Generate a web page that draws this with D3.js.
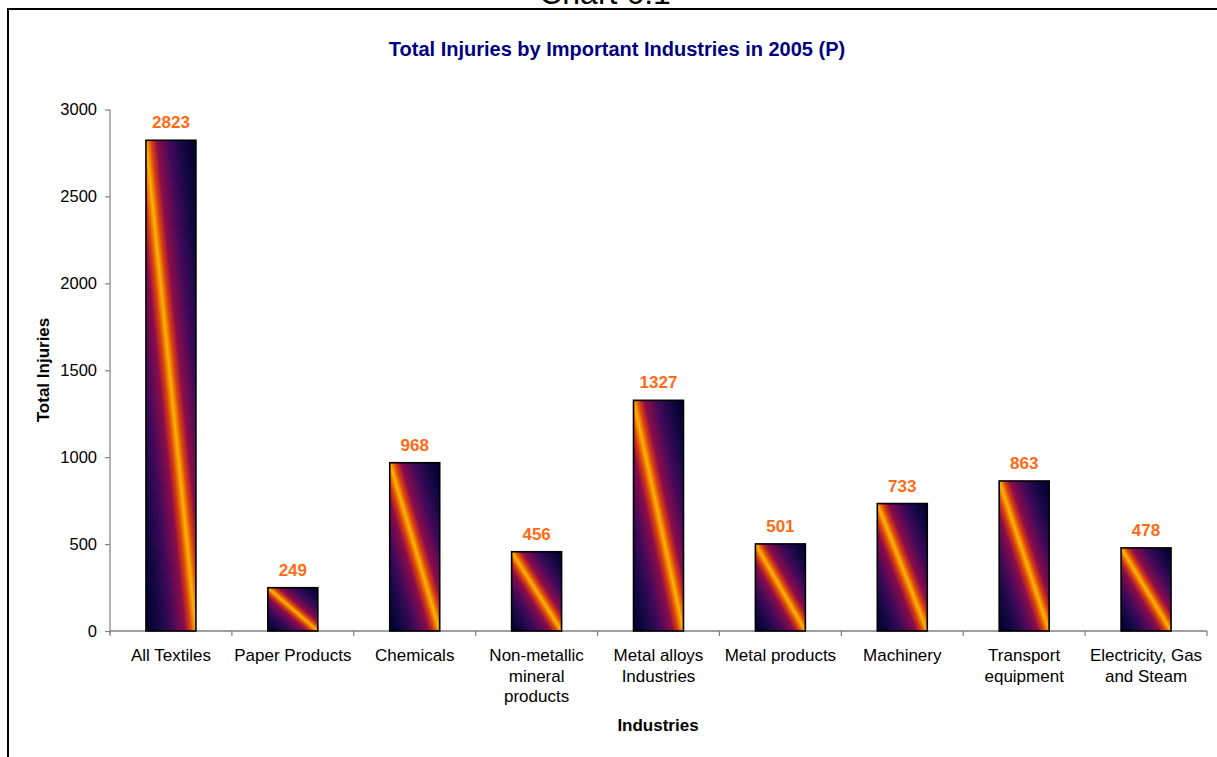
<!DOCTYPE html>
<html>
<head>
<meta charset="utf-8">
<script src="https://cdn.jsdelivr.net/npm/d3@7"></script>
<style>
  html, body { margin: 0; padding: 0; background: #fff; }
  svg { display: block; font-family: "Liberation Sans", Arial, sans-serif; }
</style>
</head>
<body>
<svg id="chart" width="1217" height="757"></svg>
<script>
// Industries (multi-line labels) and their total injuries
const categories = [
  ["All Textiles"],
  ["Paper Products"],
  ["Chemicals"],
  ["Non-metallic", "mineral", "products"],
  ["Metal alloys", "Industries"],
  ["Metal products"],
  ["Machinery"],
  ["Transport", "equipment"],
  ["Electricity, Gas", "and Steam"]
];
const values = [2823, 249, 968, 456, 1327, 501, 733, 863, 478];
const yTicks = [0, 500, 1000, 1500, 2000, 2500, 3000];

const svg = d3.select("#chart");
const W = 1217, H = 757;
const plot = { left: 110, right: 1207, top: 109.5, bottom: 631 };

// Page frame and the chart caption above it (runs off the top edge)
svg.append("text")
  .attr("x", 605).attr("y", 4)
  .attr("text-anchor", "middle")
  .attr("font-size", 32)
  .attr("fill", "#000")
  .text("Chart 6.1");
svg.append("path")
  .attr("d", `M8,${H} L8,9 L${W},9`)
  .attr("fill", "none")
  .attr("stroke", "#000")
  .attr("stroke-width", 2);

// Diagonal "fire" gradient used to fill each bar
const defs = svg.append("defs");
const grad = defs.append("linearGradient")
  .attr("id", "barFill")
  .attr("x1", 1).attr("y1", 0).attr("x2", 0).attr("y2", 1);
const stops = [
  [0, "#00002a"], [0.14, "#150845"], [0.27, "#44095a"], [0.39, "#8c0c4a"],
  [0.445, "#d8400f"], [0.5, "#ffb400"], [0.555, "#d8400f"], [0.61, "#8c0c4a"],
  [0.73, "#44095a"], [0.86, "#150845"], [1, "#00002a"]
];
stops.forEach(([o, c]) => grad.append("stop").attr("offset", o).attr("stop-color", c));

// Scales
const x = d3.scaleBand()
  .domain(d3.range(categories.length))
  .range([plot.left, plot.right])
  .paddingInner(0.59)
  .paddingOuter(0.295);
const y = d3.scaleLinear().domain([0, 3000]).range([plot.bottom, plot.top]);

// Title
svg.append("text")
  .attr("x", 617).attr("y", 56)
  .attr("text-anchor", "middle")
  .attr("font-size", 20)
  .attr("font-weight", "bold")
  .attr("fill", "#000080")
  .text("Total Injuries by Important Industries in 2005 (P)");

// Y axis
const yAxis = svg.append("g")
  .attr("transform", `translate(${plot.left},0)`)
  .call(d3.axisLeft(y).tickValues(yTicks).tickSize(5).tickPadding(8).tickFormat(d3.format("d")));
yAxis.select(".domain").attr("stroke", "#808080").attr("stroke-width", 1.2)
  .attr("d", `M0,${plot.top}V${plot.bottom + 3}`);
yAxis.selectAll(".tick line").attr("stroke", "#808080").attr("stroke-width", 1.2);
yAxis.selectAll(".tick text").attr("font-size", 16.5).attr("fill", "#000")
  .attr("font-family", "Liberation Sans, Arial, sans-serif");

// X axis with ticks on category boundaries
const xAxisG = svg.append("g");
xAxisG.append("line")
  .attr("x1", plot.left).attr("x2", plot.right)
  .attr("y1", plot.bottom).attr("y2", plot.bottom)
  .attr("stroke", "#808080").attr("stroke-width", 1.5);
const step = x.step();
const bounds = d3.range(categories.length + 1).map(i => plot.left + i * step);
xAxisG.selectAll("line.tick").data(bounds).join("line")
  .attr("class", "tick")
  .attr("x1", d => d).attr("x2", d => d)
  .attr("y1", plot.bottom).attr("y2", plot.bottom + 5)
  .attr("stroke", "#808080").attr("stroke-width", 1.2);

// Category labels
const catLabels = svg.append("g").selectAll("text").data(categories).join("text")
  .attr("text-anchor", "middle")
  .attr("font-size", 17)
  .attr("fill", "#000")
  .attr("x", (d, i) => x(i) + x.bandwidth() / 2)
  .attr("y", 661);
catLabels.selectAll("tspan").data(d => d).join("tspan")
  .attr("x", function () { return d3.select(this.parentNode).attr("x"); })
  .attr("dy", (d, i) => i === 0 ? 0 : 20.5)
  .text(d => d);

// Bars
svg.append("g").selectAll("rect").data(values).join("rect")
  .attr("x", (d, i) => x(i))
  .attr("y", d => y(d))
  .attr("width", x.bandwidth())
  .attr("height", d => y(0) - y(d))
  .attr("fill", "url(#barFill)")
  .attr("stroke", "#000")
  .attr("stroke-width", 1.6);

// Value labels
svg.append("g").selectAll("text").data(values).join("text")
  .attr("text-anchor", "middle")
  .attr("font-size", 17)
  .attr("font-weight", "bold")
  .attr("fill", "#ff6a13")
  .attr("x", (d, i) => x(i) + x.bandwidth() / 2)
  .attr("y", d => y(d) - 12)
  .text(d => d);

// Axis titles
svg.append("text")
  .attr("x", 658).attr("y", 731)
  .attr("text-anchor", "middle")
  .attr("font-size", 17).attr("font-weight", "bold")
  .text("Industries");
svg.append("text")
  .attr("transform", "translate(49,370) rotate(-90)")
  .attr("text-anchor", "middle")
  .attr("font-size", 17).attr("font-weight", "bold")
  .text("Total Injuries");
</script>
</body>
</html>
